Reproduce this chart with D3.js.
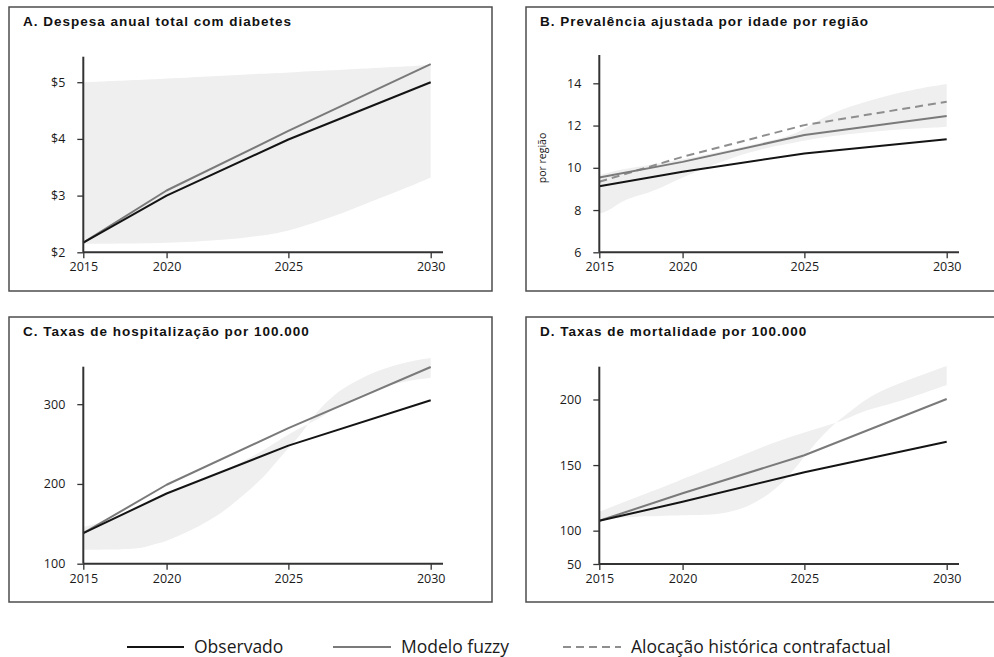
<!DOCTYPE html>
<html><head><meta charset="utf-8">
<script src="https://cdn.jsdelivr.net/npm/d3@7"></script>
<style>
html,body{margin:0;padding:0;background:#fff;}
svg{display:block;}
</style></head><body>
<svg id="chart" width="994" height="657"></svg>
<script>
// ---------- DATA ----------
const years = [2015, 2020, 2025, 2030];

// A. Despesa anual total com diabetes
const despesaObservado = [2.17, 3.0, 3.99, 5.0];
const despesaFuzzy = [2.17, 3.09, 4.14, 5.32];
const despesaFaixaAnos = [2015, 2020, 2021.8, 2023.5, 2024.5, 2025, 2025.7, 2027, 2028.1, 2029.3, 2030];
const despesaFaixaInf = [2.15, 2.16, 2.2, 2.26, 2.33, 2.38, 2.48, 2.69, 2.92, 3.16, 3.32];
const despesaFaixaSup = [5.0, 5.06, 5.10, 5.14, 5.16, 5.17, 5.19, 5.22, 5.25, 5.28, 5.31];
const despesaTicks = [2, 3, 4, 5];

// B. Prevalência ajustada por idade por região
const prevObservado = [9.13, 9.81, 10.68, 11.35];
const prevFuzzy = [9.54, 10.28, 11.55, 12.45];
const prevContrafactual = [9.34, 10.52, 12.02, 13.13];
const prevFaixaAnos = [2015, 2015.8, 2016.9, 2017.9, 2018.75, 2020.3, 2023, 2024.5, 2025, 2026, 2027, 2028.7, 2030];
const prevFaixaInf = [7.84, 7.9, 8.47, 8.71, 8.94, 9.73, 10.84, 11.16, 11.3, 11.5, 11.65, 11.85, 11.94];
const prevFaixaSup = [9.65, 9.75, 9.95, 10.05, 10.2, 10.45, 11.1, 11.5, 11.85, 12.6, 13.05, 13.68, 13.97];
const prevTicks = [6, 8, 10, 12, 14];

// C. Taxas de hospitalização por 100.000
const hospObservado = [138.3, 188, 248, 305];
const hospFuzzy = [138.3, 199, 270, 346.6];
const hospFaixaAnos = [2015, 2017, 2018.8, 2019.2, 2020, 2020.8, 2022.2, 2023.5, 2024.2, 2024.8, 2025.4, 2026.0, 2026.7, 2027, 2028.1, 2029.3, 2030];
const hospFaixaA = [117.5, 117.5, 119, 123, 128, 138, 158, 192, 213, 238, 258, 290, 312, 320, 342, 354, 358];
const hospFaixaB = [146, 154, 174, 178, 188, 196, 212, 232, 245, 258, 270, 279, 295, 300, 320, 330, 333];
const hospTicks = [100, 200, 300];

// D. Taxas de mortalidade por 100.000
const mortObservado = [107.5, 122, 144.5, 167.8];
const mortFuzzy = [107.5, 128.5, 157.5, 200.4];
const mortFaixaAnos = [2015, 2016.9, 2019.9, 2021.4, 2022.1, 2022.8, 2023.4, 2024.1, 2024.7, 2025.3, 2025.9, 2026.6, 2027.1, 2027.7, 2028.4, 2030];
const mortFaixaA = [108, 110.5, 111.8, 111.8, 114.4, 118.2, 124.6, 134.7, 148.7, 164, 178, 189.5, 198.3, 206, 212.4, 225.6];
const mortFaixaB = [114.4, 121.5, 138.5, 148.7, 153.9, 159, 164, 169, 172.9, 176.7, 180.5, 185.6, 190.7, 194.5, 198.3, 211];
const mortTicks = [50, 100, 150, 200];

const legendLabels = ["Observado", "Modelo fuzzy", "Alocação histórica contrafactual"];

// ---------- DRAW ----------
const svg = d3.select("#chart");
const TICK_FONT = "'Open Sans', 'Noto Sans', sans-serif";
const TITLE_FONT = "'Liberation Sans', Arial, sans-serif";

const xs = d3.scalePow().exponent(1.3).domain([0, 15]).range([0, 347.4]);
const xYear = yr => xs(yr - 2015);

const styles = {
  obs:   {stroke: "#141414", width: 2, dash: null},
  fuzzy: {stroke: "#7a7a7a", width: 2, dash: null},
  contra:{stroke: "#8e8e8e", width: 2, dash: "8,5"}
};

const panels = [
  {title: "A. Despesa anual total com diabetes", box: [9, 7, 483, 284], origin: [83.3, 56.7], h: 195.6,
   yScale: h => d3.scaleLinear().domain([2, 5.45]).range([h, 0]),
   ticks: despesaTicks, fmt: d => "$" + d,
   band: {anos: despesaFaixaAnos, a: despesaFaixaInf, b: despesaFaixaSup},
   lines: [{v: despesaFuzzy, k: "fuzzy"}, {v: despesaObservado, k: "obs"}]},
  {title: "B. Prevalência ajustada por idade por região", box: [526, 7, 483, 284], origin: [599.3, 55], h: 197.3,
   yScale: h => d3.scaleLinear().domain([6, 15.34]).range([h, 0]),
   ticks: prevTicks, fmt: d => d, ylabel: "por região",
   band: {anos: prevFaixaAnos, a: prevFaixaInf, b: prevFaixaSup},
   lines: [{v: prevContrafactual, k: "contra"}, {v: prevFuzzy, k: "fuzzy"}, {v: prevObservado, k: "obs"}]},
  {title: "C. Taxas de hospitalização por 100.000", box: [9, 317, 483, 285], origin: [83.3, 366.7], h: 197,
   yScale: h => d3.scaleLinear().domain([100, 347]).range([h, 0]),
   ticks: hospTicks, fmt: d => d,
   band: {anos: hospFaixaAnos, a: hospFaixaA, b: hospFaixaB},
   lines: [{v: hospFuzzy, k: "fuzzy"}, {v: hospObservado, k: "obs"}]},
  {title: "D. Taxas de mortalidade por 100.000", box: [526, 317, 483, 285], origin: [599.3, 366.7], h: 197.3,
   yScale: h => d3.scaleLinear().domain([50, 100, 225]).range([h, h * 0.831, 0]),
   ticks: mortTicks, fmt: d => d,
   band: {anos: mortFaixaAnos, a: mortFaixaA, b: mortFaixaB},
   lines: [{v: mortFuzzy, k: "fuzzy"}, {v: mortObservado, k: "obs"}]}
];

panels.forEach(p => {
  const [bx, by, bw, bh] = p.box;
  svg.append("rect").attr("x", bx).attr("y", by).attr("width", bw).attr("height", bh)
    .attr("fill", "none").attr("stroke", "#4d4d4d").attr("stroke-width", 1.5);
  svg.append("text").attr("x", bx + 14).attr("y", by + 19)
    .attr("font-family", TITLE_FONT).attr("font-weight", "bold").attr("font-size", 13.5)
    .attr("letter-spacing", "1px").attr("fill", "#111").text(p.title);

  const h = p.h;
  const y = p.yScale(h);
  const g = svg.append("g").attr("transform", `translate(${p.origin[0]},${p.origin[1]})`);

  // band
  const bandData = p.band.anos.map((a, i) => ({a, lo: p.band.a[i], hi: p.band.b[i]}));
  g.append("path").datum(bandData)
    .attr("d", d3.area().x(d => xYear(d.a)).y0(d => y(d.lo)).y1(d => y(d.hi)).curve(d3.curveBasis))
    .attr("fill", "#efefef").attr("stroke", "none");

  // lines
  p.lines.forEach(l => {
    const s = styles[l.k];
    g.append("path").datum(years.map((yr, i) => ({yr, v: l.v[i]})))
      .attr("d", d3.line().x(d => xYear(d.yr)).y(d => y(d.v)))
      .attr("fill", "none").attr("stroke", s.stroke).attr("stroke-width", s.width)
      .attr("stroke-dasharray", s.dash).attr("stroke-linejoin", "round");
  });

  // y axis
  const ya = g.append("g").call(d3.axisLeft(y).tickValues(p.ticks).tickFormat(p.fmt).tickSize(6).tickPadding(12));
  ya.select(".domain").remove();
  ya.selectAll(".tick line").attr("stroke", "#333").attr("stroke-width", 1.3);
  ya.selectAll(".tick text").attr("font-family", TICK_FONT).attr("font-size", 12.5).attr("fill", "#1a1a1a");

  // x axis
  const xa = g.append("g").attr("transform", `translate(0,${h})`)
    .call(d3.axisBottom(xs).tickValues(years.map(v => v - 2015)).tickFormat(d => d + 2015).tickSize(6).tickPadding(4));
  xa.select(".domain").remove();
  xa.selectAll(".tick line").attr("stroke", "#333").attr("stroke-width", 1.3);
  xa.selectAll(".tick text").attr("font-family", TICK_FONT).attr("font-size", 12.5).attr("fill", "#1a1a1a");

  // axis lines
  g.append("line").attr("x1", 0).attr("x2", 0).attr("y1", 0).attr("y2", h)
    .attr("stroke", "#333").attr("stroke-width", 2);
  g.append("line").attr("x1", 0).attr("x2", 359.7).attr("y1", h).attr("y2", h)
    .attr("stroke", "#333").attr("stroke-width", 2);

  if (p.ylabel) {
    svg.append("text").attr("transform", `translate(${p.origin[0] - 57},${p.origin[1] + 103}) rotate(-90)`)
      .attr("text-anchor", "middle").attr("dy", "0.35em")
      .attr("font-family", TICK_FONT).attr("font-size", 10.5).attr("fill", "#1a1a1a").text(p.ylabel);
  }
});

// legend
const legendItems = [
  {k: "obs", x1: 127, x2: 184, tx: 194},
  {k: "fuzzy", x1: 333, x2: 391, tx: 401},
  {k: "contra", x1: 563, x2: 621, tx: 631}
];
const ly = 647;
legendItems.forEach((it, i) => {
  const s = styles[it.k];
  svg.append("line").attr("x1", it.x1).attr("x2", it.x2).attr("y1", ly).attr("y2", ly)
    .attr("stroke", s.stroke).attr("stroke-width", 2).attr("stroke-dasharray", s.dash);
  svg.append("text").attr("x", it.tx).attr("y", ly).attr("dy", "0.35em")
    .attr("font-family", TICK_FONT).attr("font-size", 17.5).attr("fill", "#1a1a1a").text(legendLabels[i]);
});
</script>
</body></html>
